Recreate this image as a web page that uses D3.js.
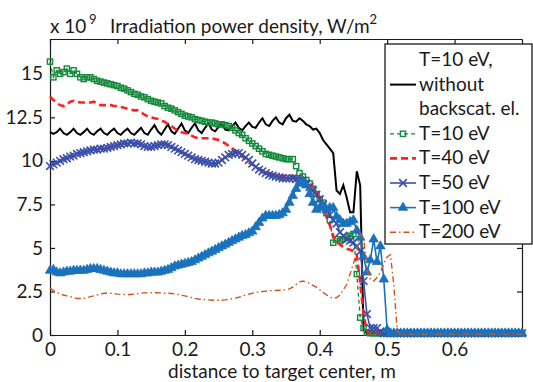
<!DOCTYPE html>
<html lang="en">
<head>
<meta charset="UTF-8">
<script src="https://cdn.jsdelivr.net/npm/d3@7"></script>
<title>Irradiation power density</title>
<style>
  body { margin: 0; background: #fff; }
  svg { font-family: Lato, sans-serif; }
  .axis text { font-size: 19px; fill: #1a1a1a; font-family: Lato, sans-serif; }
  .axis path, .axis line { stroke: #1a1a1a; stroke-width: 1.2; }
  .lbl { font-size: 19px; fill: #1a1a1a; }
</style>
</head>
<body>
<script>
// distance to target center, m (sampled every 5 mm)
const distance = d3.range(141).map(i => +(i * 0.005).toFixed(3));

// power density, 1e9 W/m^2, one row = 0.05 m
const k10NoBack = [
  11.65, 11.55, 11.65, 11.85, 11.6, 11.5, 11.65, 11.85, 11.6, 11.5,
  11.65, 11.85, 11.6, 11.5, 11.7, 11.85, 11.6, 11.5, 11.7, 11.85,
  11.6, 11.5, 11.7, 11.85, 11.6, 11.5, 11.7, 11.9, 11.6, 11.5,
  11.8, 12.05, 11.7, 11.5, 11.8, 12.1, 11.7, 11.55, 11.85, 12.15,
  11.75, 11.6, 11.9, 12.15, 11.75, 11.6, 11.9, 12.15, 11.8, 11.7,
  11.95, 12.15, 11.8, 11.75, 12.0, 12.2, 11.9, 11.75, 12.0, 12.2,
  11.95, 11.9, 12.2, 12.45, 12.1, 12.0, 12.3, 12.5, 12.2, 12.1,
  12.45, 12.65, 12.3, 12.25, 12.45, 12.3, 12.1, 12.0, 11.8, 11.85,
  11.6, 11.2, 10.95, 10.7, 10.45, 8.3, 8.1, 8.6, 7.9, 7.05,
  7.05, 9.4, 8.6, 0.3, 0.1, 0.1, 0.1, 0.1, 0.1, 0.1,
  0.1, 0.1, 0.1, 0.1, 0.1, 0.1, 0.1, 0.1, 0.1, 0.1,
  0.1, 0.1, 0.1, 0.1, 0.1, 0.1, 0.1, 0.1, 0.1, 0.1,
  0.1, 0.1, 0.1, 0.1, 0.1, 0.1, 0.1, 0.1, 0.1, 0.1,
  0.1, 0.1, 0.1, 0.1, 0.1, 0.1, 0.1, 0.1, 0.1, 0.1,
  0.1
];
const t10 = [
  15.7, 14.8, 15.2, 15.0, 15.1, 15.3, 15.0, 15.2, 15.0, 14.8,
  14.7, 14.8, 14.8, 14.7, 14.6, 14.55, 14.5, 14.45, 14.4, 14.35,
  14.3, 14.2, 14.15, 14.05, 13.95, 13.85, 13.8, 13.7, 13.65, 13.55,
  13.45, 13.4, 13.35, 13.3, 13.15, 13.05, 13.0, 12.9, 12.8, 12.7,
  12.6, 12.55, 12.5, 12.4, 12.35, 12.3, 12.25, 12.2, 12.2, 12.15,
  12.1, 12.1, 12.05, 12.0, 11.9, 11.75, 11.6, 11.5, 11.3, 11.15,
  11.0, 10.85, 10.7, 10.55, 10.4, 10.35, 10.3, 10.25, 10.2, 10.15,
  10.1, 10.1, 10.1, 9.7, 9.3, 9.1, 8.9, 8.7, 8.4, 8.1,
  7.8, 7.6, 7.0, 6.6, 5.3, 5.5, 5.4, 5.5, 5.6, 5.7,
  5.8, 3.5, 1.0, 0.4, 0.15, 0.1, 0.1, 0.1, 0.1, 0.1,
  0.1, 0.1, 0.1, 0.1, 0.1, 0.1, 0.1, 0.1, 0.1, 0.1,
  0.1, 0.1, 0.1, 0.1, 0.1, 0.1, 0.1, 0.1, 0.1, 0.1,
  0.1, 0.1, 0.1, 0.1, 0.1, 0.1, 0.1, 0.1, 0.1, 0.1,
  0.1, 0.1, 0.1, 0.1, 0.1, 0.1, 0.1, 0.1, 0.1, 0.1,
  0.1
];
const t40 = [
  13.7, 13.5, 13.35, 13.2, 13.15, 13.25, 13.4, 13.45, 13.4, 13.35,
  13.35, 13.35, 13.35, 13.4, 13.3, 13.2, 13.2, 13.2, 13.2, 13.15,
  13.15, 13.1, 13.05, 13.0, 12.95, 12.9, 12.9, 12.8, 12.65, 12.55,
  12.5, 12.45, 12.4, 12.3, 12.25, 12.1, 12.0, 11.85, 11.75, 11.65,
  11.6, 11.55, 11.45, 11.35, 11.3, 11.3, 11.3, 11.3, 11.3, 11.25,
  11.2, 11.1, 11.0, 10.85, 10.75, 10.55, 10.4, 10.25, 10.1, 9.9,
  9.8, 9.65, 9.55, 9.45, 9.35, 9.3, 9.25, 9.2, 9.15, 9.15,
  9.15, 9.15, 9.15, 9.1, 9.05, 8.95, 8.8, 8.65, 8.5, 8.25,
  7.9, 7.5, 6.8, 6.3, 5.7, 5.4, 5.2, 5.05, 4.95, 4.9,
  4.8, 4.6, 3.0, 1.2, 0.2, 0.1, 0.1, 0.1, 0.1, 0.1,
  0.1, 0.1, 0.1, 0.1, 0.1, 0.1, 0.1, 0.1, 0.1, 0.1,
  0.1, 0.1, 0.1, 0.1, 0.1, 0.1, 0.1, 0.1, 0.1, 0.1,
  0.1, 0.1, 0.1, 0.1, 0.1, 0.1, 0.1, 0.1, 0.1, 0.1,
  0.1, 0.1, 0.1, 0.1, 0.1, 0.1, 0.1, 0.1, 0.1, 0.1,
  0.1
];
const t50 = [
  9.7, 9.8, 9.9, 10.0, 10.1, 10.15, 10.25, 10.3, 10.4, 10.45,
  10.5, 10.55, 10.6, 10.65, 10.65, 10.7, 10.7, 10.75, 10.8, 10.85,
  10.9, 10.95, 11.0, 11.0, 11.05, 11.0, 11.0, 10.95, 10.85, 10.8,
  10.8, 10.85, 10.9, 10.95, 10.95, 10.9, 10.8, 10.7, 10.6, 10.5,
  10.4, 10.3, 10.2, 10.1, 10.05, 10.0, 9.95, 9.9, 9.85, 9.85,
  9.9, 10.05, 10.2, 10.35, 10.4, 10.45, 10.45, 10.35, 10.2, 10.05,
  9.85, 9.65, 9.5, 9.4, 9.3, 9.2, 9.15, 9.1, 9.05, 9.0,
  9.0, 9.0, 9.0, 8.95, 8.9, 8.85, 8.7, 8.5, 8.3, 8.05,
  7.8, 7.5, 7.2, 6.9, 6.6, 6.4, 5.9, 5.7, 5.5, 5.4,
  5.3, 5.1, 4.8, 3.1, 1.2, 0.4, 0.4, 0.4, 0.2, 0.1,
  0.1, 0.1, 0.1, 0.1, 0.1, 0.1, 0.1, 0.1, 0.1, 0.1,
  0.1, 0.1, 0.1, 0.1, 0.1, 0.1, 0.1, 0.1, 0.1, 0.1,
  0.1, 0.1, 0.1, 0.1, 0.1, 0.1, 0.1, 0.1, 0.1, 0.1,
  0.1, 0.1, 0.1, 0.1, 0.1, 0.1, 0.1, 0.1, 0.1, 0.1,
  0.1
];
const t100 = [
  3.7, 3.75, 3.6, 3.55, 3.6, 3.65, 3.65, 3.7, 3.7, 3.7,
  3.7, 3.75, 3.8, 3.8, 3.8, 3.75, 3.7, 3.65, 3.6, 3.55,
  3.55, 3.5, 3.5, 3.5, 3.5, 3.5, 3.5, 3.5, 3.55, 3.55,
  3.6, 3.6, 3.6, 3.65, 3.7, 3.75, 3.85, 3.95, 4.0, 4.05,
  4.1, 4.15, 4.2, 4.3, 4.4, 4.5, 4.6, 4.7, 4.8, 4.9,
  5.0, 5.1, 5.2, 5.3, 5.4, 5.5, 5.6, 5.7, 5.75, 5.85,
  5.95, 6.2, 6.45, 6.7, 6.85, 6.85, 6.85, 6.85, 6.9, 7.0,
  7.2, 7.6, 8.0, 8.4, 8.7, 8.8, 8.6, 8.1, 7.6, 7.2,
  7.3, 7.4, 7.2, 7.3, 7.3, 6.8, 6.6, 6.4, 6.4, 6.5,
  6.6, 6.0, 5.6, 4.5, 3.6, 4.3, 5.5, 4.2, 5.1, 3.2,
  0.3, 0.1, 0.1, 0.1, 0.1, 0.1, 0.1, 0.1, 0.1, 0.1,
  0.1, 0.1, 0.1, 0.1, 0.1, 0.1, 0.1, 0.1, 0.1, 0.1,
  0.1, 0.1, 0.1, 0.1, 0.1, 0.1, 0.1, 0.1, 0.1, 0.1,
  0.1, 0.1, 0.1, 0.1, 0.1, 0.1, 0.1, 0.1, 0.1, 0.1,
  0.1
];
const t200 = [
  2.7, 2.55, 2.45, 2.35, 2.3, 2.25, 2.2, 2.15, 2.1, 2.1,
  2.1, 2.15, 2.2, 2.25, 2.3, 2.35, 2.4, 2.4, 2.4, 2.38,
  2.35, 2.33, 2.33, 2.33, 2.33, 2.35, 2.37, 2.4, 2.42, 2.43,
  2.43, 2.43, 2.43, 2.42, 2.4, 2.4, 2.38, 2.36, 2.33, 2.28,
  2.25, 2.2, 2.15, 2.1, 2.07, 2.05, 2.03, 2.02, 2.0, 2.0,
  2.0, 2.0, 2.02, 2.05, 2.08, 2.12, 2.17, 2.23, 2.3, 2.35,
  2.4, 2.45, 2.48, 2.5, 2.52, 2.54, 2.55, 2.56, 2.57, 2.58,
  2.6, 2.65, 2.75, 2.9, 3.05, 3.1, 3.05, 2.95, 2.85, 2.75,
  2.6, 2.45, 2.3, 2.2, 2.1, 2.15, 2.3, 2.6, 2.9, 3.5,
  4.1, 4.8, 5.8, 5.6, 3.8, 3.2, 3.1, 3.3, 3.6, 4.1,
  4.5, 4.6, 2.8, 0.2, 0.05, 0.05, 0.05, 0.05, 0.05, 0.05,
  0.05, 0.05, 0.05, 0.05, 0.05, 0.05, 0.05, 0.05, 0.05, 0.05,
  0.05, 0.05, 0.05, 0.05, 0.05, 0.05, 0.05, 0.05, 0.05, 0.05,
  0.05, 0.05, 0.05, 0.05, 0.05, 0.05, 0.05, 0.05, 0.05, 0.05,
  0.05
];

const xTicks = [0, 0.1, 0.2, 0.3, 0.4, 0.5, 0.6];
const yTicks = [0, 2.5, 5, 7.5, 10, 12.5, 15];
const legendLabels = [["T=10 eV,", "without", "backscat. el."], ["T=10 eV"], ["T=40 eV"], ["T=50 eV"], ["T=100 eV"], ["T=200 eV"]];

const series = [
  { values: k10NoBack, color: "#000000", width: 2, dash: null, marker: null },
  { values: t10, color: "#13893a", width: 1.3, dash: "4,3", marker: "square" },
  { values: t40, color: "#ff2222", width: 2.6, dash: "7,4", marker: null },
  { values: t50, color: "#3b4eaa", width: 1.6, dash: null, marker: "x" },
  { values: t100, color: "#1a72bd", width: 1.6, dash: null, marker: "triangle" },
  { values: t200, color: "#d95319", width: 1.4, dash: "6,3,1.5,3", marker: null }
];

const W = 533, H = 382;
const svg = d3.select("body").append("svg").attr("width", W).attr("height", H);

const x = d3.scaleLinear().domain([0, 0.7]).range([50, 522]);
const y = d3.scaleLinear().domain([0, 17]).range([335, 39]);

// axes, ticks pointing inwards like matlab
svg.append("g").attr("class", "axis").attr("transform", "translate(0,335)")
  .call(d3.axisBottom(x).tickValues(xTicks).tickSizeInner(-5).tickSizeOuter(0).tickPadding(8).tickFormat(d => d));
svg.append("g").attr("class", "axis").attr("transform", "translate(0,39)")
  .call(d3.axisTop(x).tickValues(xTicks).tickSizeInner(-5).tickSizeOuter(0).tickFormat(""));
svg.append("g").attr("class", "axis").attr("transform", "translate(50,0)")
  .call(d3.axisLeft(y).tickValues(yTicks).tickSizeInner(-5).tickSizeOuter(0).tickPadding(7).tickFormat(d => d));
svg.append("g").attr("class", "axis").attr("transform", "translate(522,0)")
  .call(d3.axisRight(y).tickValues(yTicks).tickSizeInner(-5).tickSizeOuter(0).tickFormat(""));
svg.selectAll(".axis text").attr("fill", "#1a1a1a");

const line = d3.line().x((d, i) => x(distance[i])).y(d => y(d));

function drawMarker(sel, type, color) {
  if (type === "square") {
    sel.append("rect").attr("x", -2.6).attr("y", -2.6).attr("width", 5.2).attr("height", 5.2)
      .attr("fill", "none").attr("stroke", color).attr("stroke-width", 1.4);
  } else if (type === "x") {
    sel.append("path").attr("d", d3.symbol(d3.symbolTimes, 40)())
      .attr("fill", "none").attr("stroke", color).attr("stroke-width", 1.6);
  } else if (type === "triangle") {
    sel.append("path").attr("d", d3.symbol(d3.symbolTriangle, 38)())
      .attr("fill", color).attr("stroke", color).attr("stroke-width", 0.8);
  }
}

series.forEach(s => {
  svg.append("path").datum(s.values)
    .attr("d", line)
    .attr("fill", "none")
    .attr("stroke", s.color)
    .attr("stroke-width", s.width)
    .attr("stroke-dasharray", s.dash);
  if (s.marker) {
    const m = svg.append("g").selectAll("g").data(s.values).enter().append("g")
      .attr("transform", (d, i) => `translate(${x(distance[i])},${y(d)})`);
    drawMarker(m, s.marker, s.color);
  }
});

// title
svg.append("text").attr("class", "lbl").attr("x", 50).attr("y", 33).text("x 10");
svg.append("text").attr("class", "lbl").attr("x", 89).attr("y", 24).style("font-size", "13px").text("9");
const title = svg.append("text").attr("class", "lbl").attr("x", 110).attr("y", 33);
title.append("tspan").text("Irradiation power density, W/m");
title.append("tspan").attr("dy", -9).style("font-size", "13px").text("2");

svg.append("text").attr("class", "lbl").attr("x", 282).attr("y", 378)
  .attr("text-anchor", "middle").text("distance to target center, m");

// legend
const lg = svg.append("g");
lg.append("rect").attr("x", 385).attr("y", 44).attr("width", 147).attr("height", 200)
  .attr("fill", "#fff").attr("stroke", "#1a1a1a").attr("stroke-width", 1.3);

let row = 0;
series.forEach((s, k) => {
  const lines = legendLabels[k];
  const mid = row + (lines.length - 1) / 2;
  const sy = 60 + mid * 24.6;
  lg.append("line").attr("x1", 390).attr("x2", 416).attr("y1", sy).attr("y2", sy)
    .attr("stroke", s.color).attr("stroke-width", s.width).attr("stroke-dasharray", s.dash);
  if (s.marker) drawMarker(lg.append("g").attr("transform", `translate(403,${sy})`), s.marker, s.color);
  lines.forEach((t, j) => {
    lg.append("text").attr("class", "lbl").attr("x", 419).attr("y", 66 + (row + j) * 24.6).text(t);
  });
  row += lines.length;
});
</script>
</body>
</html>
